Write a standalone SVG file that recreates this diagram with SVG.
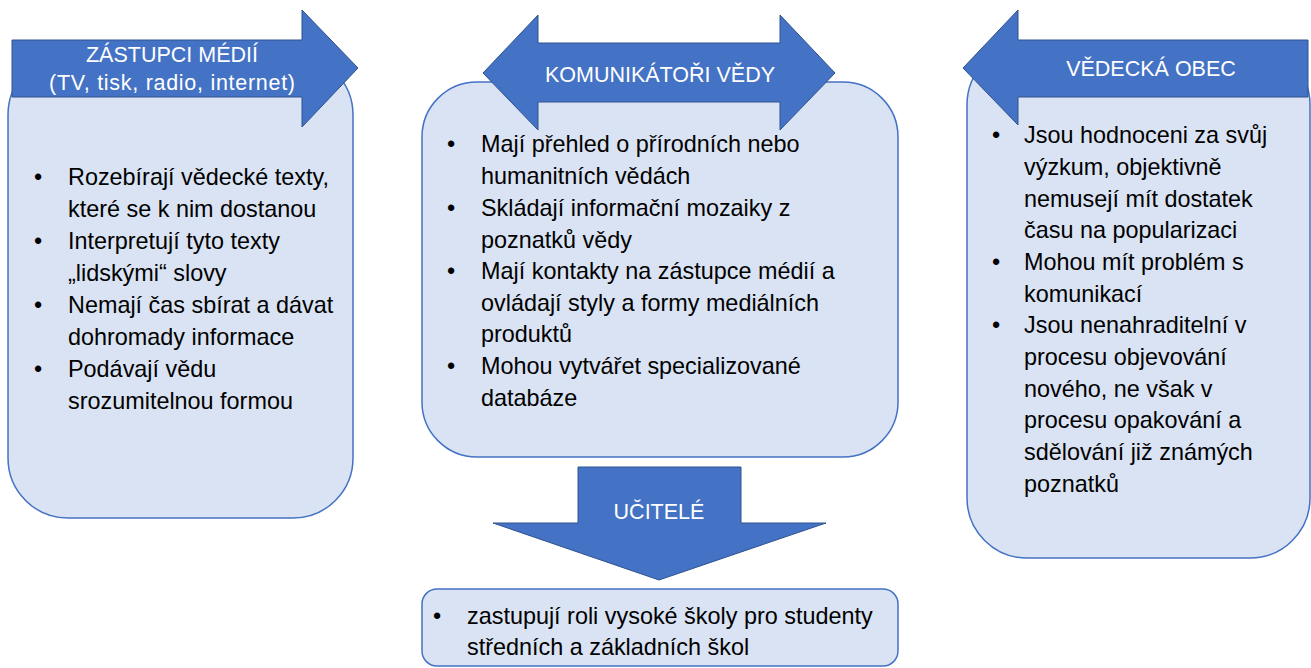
<svg xmlns="http://www.w3.org/2000/svg" width="1311" height="668" viewBox="0 0 1311 668">
<style>
.box{fill:#DAE3F3;stroke:#4472C4;stroke-width:1.5}
.arr{fill:#4472C4;stroke:#2F528F;stroke-width:1}
.hd{font-family:"Liberation Sans",Arial,sans-serif;font-size:21.5px;fill:#FFFFFF;text-anchor:middle}
.bd{font-family:"Liberation Sans",Arial,sans-serif;font-size:23.4px;fill:#000000}
</style>
<rect width="1311" height="668" fill="#FFFFFF"/>
<g id="node-media">
<rect class="box" x="8" y="55" width="345" height="463" rx="60" ry="60"/>
<path class="arr" d="M12,40 H302 V10 L358,68 L302,127 V97 H12 Z"/>
<text class="hd" x="172" y="62">ZÁSTUPCI MÉDIÍ</text>
<text class="hd" x="172" y="90" textLength="246" lengthAdjust="spacing">(TV, tisk, radio, internet)</text>
<g class="bd">
<text x="34" y="185">•</text><text x="68" y="185">Rozebírají vědecké texty,</text>
<text x="68" y="217">které se k nim dostanou</text>
<text x="34" y="249">•</text><text x="68" y="249">Interpretují tyto texty</text>
<text x="68" y="281">„lidskými“ slovy</text>
<text x="34" y="313">•</text><text x="68" y="313">Nemají čas sbírat a dávat</text>
<text x="68" y="345">dohromady informace</text>
<text x="34" y="377">•</text><text x="68" y="377">Podávají vědu</text>
<text x="68" y="409">srozumitelnou formou</text>
</g>
</g>
<g id="node-komunikatori">
<rect class="box" x="422" y="82" width="476" height="375" rx="55" ry="55"/>
<path class="arr" d="M483,73 L538,15 V43 H780 V15 L835,73 L780,130 V102 H538 V130 Z"/>
<text class="hd" x="660" y="82">KOMUNIKÁTOŘI VĚDY</text>
<g class="bd">
<text x="447" y="152">•</text><text x="481" y="152">Mají přehled o přírodních nebo</text>
<text x="481" y="184">humanitních vědách</text>
<text x="447" y="216">•</text><text x="481" y="216">Skládají informační mozaiky z</text>
<text x="481" y="248">poznatků vědy</text>
<text x="447" y="279">•</text><text x="481" y="279">Mají kontakty na zástupce médií a</text>
<text x="481" y="311">ovládají styly a formy mediálních</text>
<text x="481" y="342">produktů</text>
<text x="447" y="374">•</text><text x="481" y="374">Mohou vytvářet specializované</text>
<text x="481" y="406">databáze</text>
</g>
</g>
<g id="node-vedecka-obec">
<rect class="box" x="967" y="45" width="343" height="513" rx="60" ry="60"/>
<path class="arr" d="M963,68 L1018,10 V40 H1308 V97 H1018 V125 Z"/>
<text class="hd" x="1151" y="76">VĚDECKÁ OBEC</text>
<g class="bd">
<text x="992" y="143">•</text><text x="1024" y="143">Jsou hodnoceni za svůj</text>
<text x="1024" y="175">výzkum, objektivně</text>
<text x="1024" y="207">nemusejí mít dostatek</text>
<text x="1024" y="238">času na popularizaci</text>
<text x="992" y="270">•</text><text x="1024" y="270">Mohou mít problém s</text>
<text x="1024" y="302">komunikací</text>
<text x="992" y="333">•</text><text x="1024" y="333">Jsou nenahraditelní v</text>
<text x="1024" y="365">procesu objevování</text>
<text x="1024" y="397">nového, ne však v</text>
<text x="1024" y="428">procesu opakování a</text>
<text x="1024" y="460">sdělování již známých</text>
<text x="1024" y="492">poznatků</text>
</g>
</g>
<g id="node-ucitele">
<path class="arr" d="M578,467 H741 V523 H826 L659,580 L493,523 H578 Z"/>
<text class="hd" x="659" y="519">UČITELÉ</text>
</g>
<g id="node-skoly">
<rect class="box" x="422" y="589" width="476" height="77" rx="15" ry="15"/>
<g class="bd">
<text x="433" y="624">•</text><text x="467" y="624">zastupují roli vysoké školy pro studenty</text>
<text x="467" y="655">středních a základních škol</text>
</g>
</g>
<g id="connectors"/>
</svg>
